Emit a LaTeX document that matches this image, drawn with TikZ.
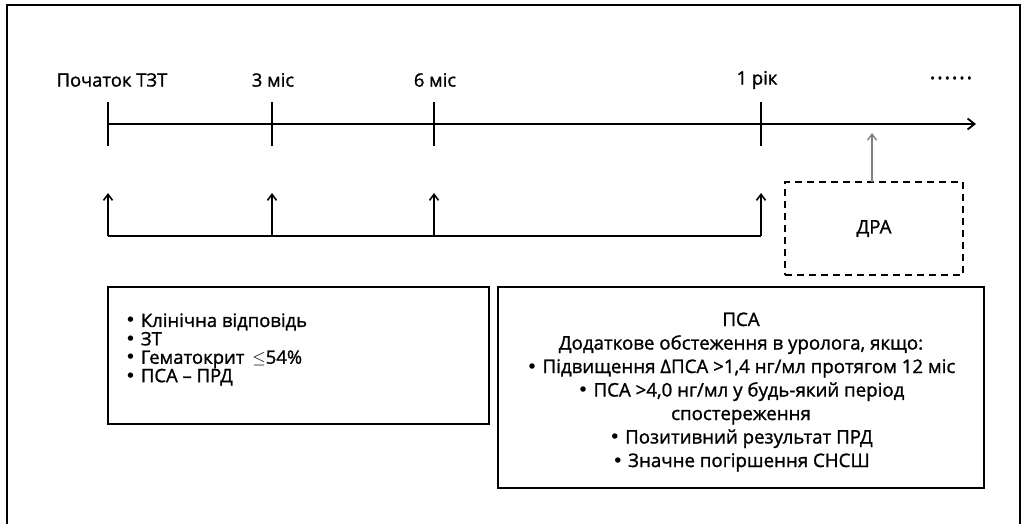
\documentclass[tikz,border=0pt]{standalone}
\usepackage{fontspec}
\setmainfont{Open Sans}[FakeBold=1.2]
\newfontfamily\dvsans{DejaVu Sans}
\newcommand{\bul}{{\dvsans •}}
\usetikzlibrary{arrows.meta}
\begin{document}
\begin{tikzpicture}[x=1pt,y=-1pt,
  lbl/.style={font=\fontsize{18.4}{20}\selectfont, inner sep=0pt},
  axis/.style={line width=1.8pt},
  tick/.style={line width=1.8pt},
  uparrow/.style={line width=1.8pt,-{Straight Barb[length=6pt,width=9pt,line width=1.6pt]}},
  box/.style={draw, line width=2.4pt, inner sep=0pt},
  txt/.style={font=\fontsize{18.7}{23.5}\selectfont, inner sep=0pt},
  ltxt/.style={font=\fontsize{18.5}{18.4}\selectfont, inner sep=0pt}]
\useasboundingbox (0,0) rectangle (1030,524);
\draw[line width=1.3pt] (7,530) -- (7,5) -- (1020,5) -- (1020,530);
% timeline
\coordinate (t0) at (108,124);
\coordinate (t1) at (272,124);
\coordinate (t2) at (434,124);
\coordinate (t3) at (761,124);
\coordinate (tend) at (976,124);
\draw[axis,-{Straight Barb[length=7pt,width=11pt,line width=1.8pt]}] (t0) -- (tend);
\foreach \t in {t0,t1,t2,t3}{
  \draw[tick] ([yshift=-22pt]\t) -- ([yshift=22pt]\t);
}
\node[lbl] (l0) at (112,80) {Початок ТЗТ};
\node[lbl] (l1) at (273,80) {3 міс};
\node[lbl] (l2) at (435,80) {6 міс};
\node[lbl] (l3) at (757,80) {1 рік};
\node[lbl, font=\fontsize{22}{22}\selectfont] (ldots) at (951,78) {.\kern1.5pt.\kern1.5pt.\kern1.5pt.\kern1.5pt.\kern1.5pt.};
% bottom bracket
\coordinate (b0) at (108,236);
\coordinate (b1) at (272,236);
\coordinate (b2) at (434,236);
\coordinate (b3) at (761,236);
\coordinate (a0) at (108,193);
\coordinate (a1) at (272,193);
\coordinate (a2) at (434,193);
\coordinate (a3) at (761,193);
\draw[line width=1.8pt] (b0) -- (b3);
\foreach \i in {0,1,2,3}{
  \draw[uparrow] (b\i) -- (a\i);
}
% DRA box
\node[draw, dashed, dash pattern=on 7pt off 5pt, line width=1.8pt, minimum width=178pt, minimum height=93pt, font=\fontsize{18.7}{20}\selectfont] (dra) at (874,228.5) {ДРА};
\coordinate (dratop) at (872,182);
\coordinate (gtip) at (872,133);
\draw[gray, line width=1.6pt, -{Straight Barb[length=6pt,width=9pt,line width=1.4pt]}] (dratop) -- (gtip);
% left box
\node[box, minimum width=381pt, minimum height=137pt] (lbox) at (298.5,355.5) {};
\node[ltxt, anchor=west, align=left] (ltext) at (125,349.5) {%
\bul\ Клінічна відповідь\\
\bul\ ЗТ\\
\bul\ Гематокрит \,$\leq$54\%\\
\bul\ ПСА – ПРД};
% right box
\node[box, minimum width=486pt, minimum height=201pt] (rbox) at (741,387.5) {};
\node[txt, align=center] (rtext) at (741,392) {%
ПСА\\
Додаткове обстеження в уролога, якщо:\\
\bul\ Підвищення ΔПСА >1,4 нг/мл протягом 12 міс\\
\bul\ ПСА >4,0 нг/мл у будь-який період\\
спостереження\\
\bul\ Позитивний результат ПРД\\
\bul\ Значне погіршення СНСШ};
\end{tikzpicture}
\end{document}
